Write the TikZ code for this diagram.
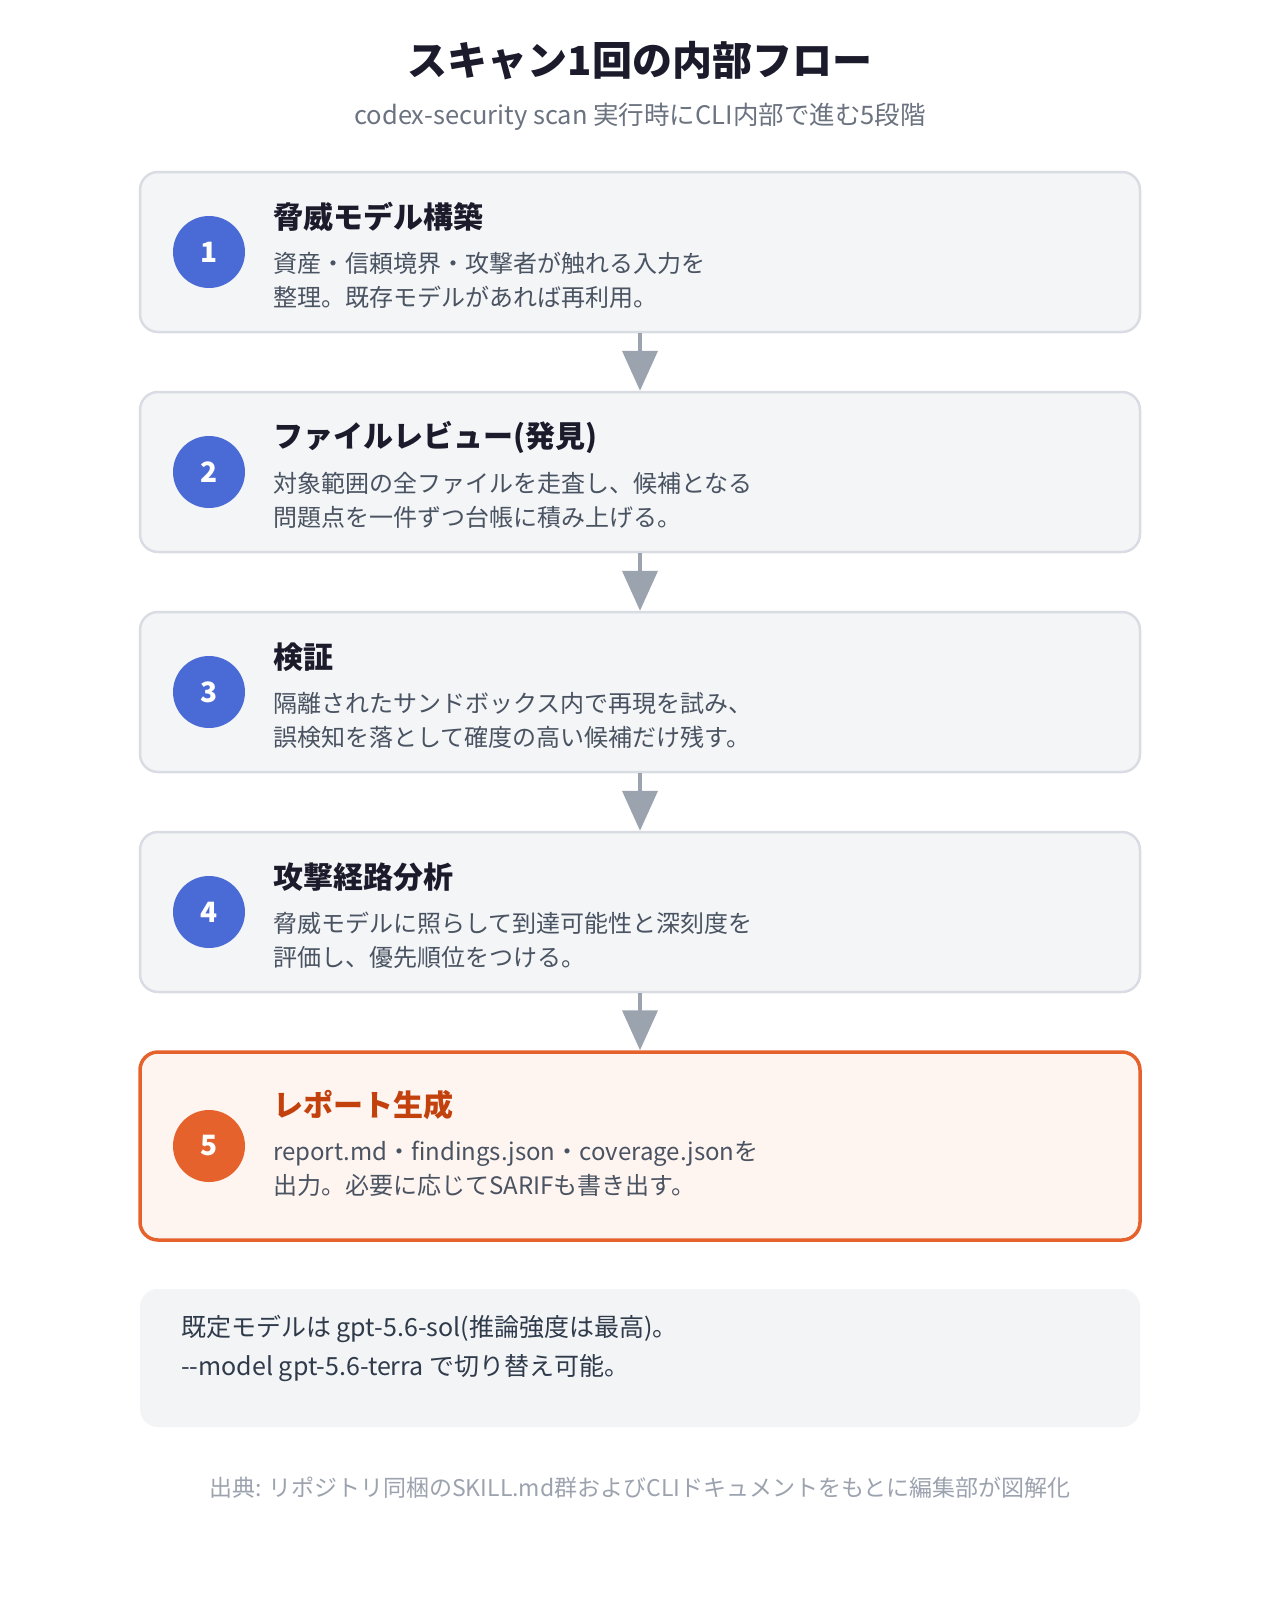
\documentclass[tikz,border=0pt]{standalone}
\usepackage{fontspec}
\setmainfont{Noto Sans CJK JP}
\usepackage{xcolor}
\usetikzlibrary{arrows.meta}

\definecolor{boxfill}{HTML}{F3F5F7}
\definecolor{boxline}{HTML}{D9DDE3}
\definecolor{stepblue}{HTML}{4A6BD6}
\definecolor{headink}{HTML}{1B1B2B}
\definecolor{bodyink}{HTML}{4A5361}
\definecolor{subink}{HTML}{6B7280}
\definecolor{footink}{HTML}{9CA3AF}
\definecolor{flowgray}{HTML}{9BA3AE}
\definecolor{repline}{HTML}{E5622D}
\definecolor{repfill}{HTML}{FEF4F0}
\definecolor{rephead}{HTML}{C2410C}
\definecolor{notefill}{HTML}{F3F4F6}
\definecolor{noteink}{HTML}{2F3A4A}

\tikzset{
  stepbox/.style={draw=boxline, line width=2.5pt, fill=boxfill, rounded corners=18pt,
    minimum width=1000pt, minimum height=160pt, inner sep=0pt},
  reportbox/.style={stepbox, draw=repline, line width=3.5pt, fill=repfill, minimum height=188pt},
  notebox/.style={fill=notefill, rounded corners=18pt, minimum width=1000pt, minimum height=138pt, inner sep=0pt},
  stepnum/.style={circle, fill=stepblue, minimum size=72pt, inner sep=0pt, text=white,
    font=\fontsize{28}{32}\selectfont\bfseries},
  stephead/.style={anchor=west, inner sep=0pt, text=headink, font=\fontsize{30}{34}\selectfont\bfseries},
  stepdesc/.style={anchor=west, inner sep=0pt, align=left, text=bodyink, font=\fontsize{24}{34}\selectfont},
  flow/.style={draw=flowgray, line width=4pt, -{Triangle[width=35pt,length=40pt]}, flowgray}
}

\begin{document}
\begin{tikzpicture}[x=1pt, y=-1pt]
  \useasboundingbox[fill=white] (0,0) rectangle (1280,1600);

  % heading
  \node[text=headink, font=\fontsize{40}{48}\selectfont\bfseries] (title) at (640,61) {スキャン1回の内部フロー};
  \node[text=subink, font=\fontsize{25.5}{30}\selectfont] (subtitle) at (640,117) {codex-security scan 実行時にCLI内部で進む5段階};

  % steps 1-4
  \foreach \n/\y/\head/\lineA/\lineB in {
      1/252/脅威モデル構築/資産・信頼境界・攻撃者が触れる入力を/整理。既存モデルがあれば再利用。,
      2/472/ファイルレビュー(発見)/対象範囲の全ファイルを走査し、候補となる/問題点を一件ずつ台帳に積み上げる。,
      3/692/検証/隔離されたサンドボックス内で再現を試み、/誤検知を落として確度の高い候補だけ残す。,
      4/912/攻撃経路分析/脅威モデルに照らして到達可能性と深刻度を/評価し、優先順位をつける。} {
    \node[stepbox] (box\n) at (640,\y) {};
    \node[stepnum] (num\n) at (209,\y) {\n};
    \node[stephead] (head\n) at (273,\y-35) {\head};
    \node[stepdesc] (desc\n) at (273,\y+28) {\lineA\\\lineB};
  }

  % step 5
  \node[reportbox] (box5) at (640,1146) {};
  \node[stepnum, fill=repline] (num5) at (209,1146) {5};
  \node[stephead, text=rephead] (head5) at (273,1105) {レポート生成};
  \node[stepdesc] (desc5) at (273,1169) {report.md・findings.json・coverage.jsonを\\出力。必要に応じてSARIFも書き出す。};

  \foreach \a/\b in {1/2,2/3,3/4,4/5}
    \draw[flow] (box\a.south) -- (box\b.north);

  % note and source
  \node[notebox] (note) at (640,1358) {};
  \node[anchor=west, inner sep=0pt, align=left, text=noteink, font=\fontsize{25}{39}\selectfont] (notetext) at (181,1348)
    {既定モデルは gpt-5.6-sol(推論強度は最高)。\\-\kern0pt-model gpt-5.6-terra で切り替え可能。};
  \node[text=footink, font=\fontsize{23}{26}\selectfont] (source) at (640,1488)
    {出典: リポジトリ同梱のSKILL.md群およびCLIドキュメントをもとに編集部が図解化};
\end{tikzpicture}
\end{document}
